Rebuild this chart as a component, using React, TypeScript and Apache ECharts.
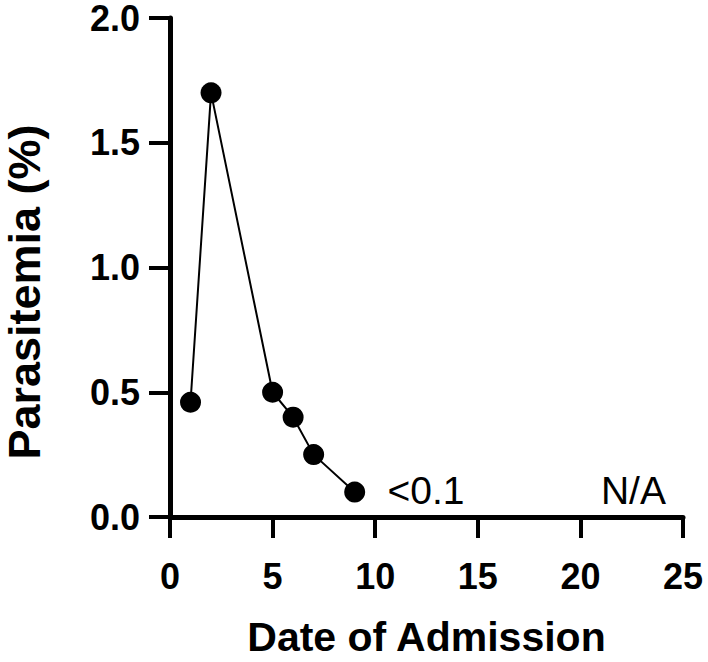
import React, { useEffect, useRef } from "react";
import * as echarts from "echarts";

const days = [1, 2, 5, 6, 7, 9];
const parasitemia = [0.46, 1.7, 0.5, 0.4, 0.25, 0.1];
const noteTexts = ["<0.1", "N/A"];
const noteX = [10.6, 21.0];
const noteY = [0.107, 0.107];
const xTitle = "Date of Admission";
const yTitle = "Parasitemia (%)";

const FONT = "'Liberation Sans', Arial, Helvetica, sans-serif";

export default function App() {
  const ref = useRef<HTMLDivElement>(null);
  useEffect(() => {
    document.body.style.margin = "0";
    if (!ref.current) return;
    const chart = echarts.init(ref.current, null, { renderer: "svg" });
    chart.setOption({
      animation: false,
      backgroundColor: "#ffffff",
      grid: { left: 170, right: 25, top: 16, bottom: 131, containLabel: false },
      xAxis: {
        type: "value",
        min: 0,
        max: 25,
        interval: 5,
        name: xTitle,
        nameLocation: "middle",
        nameGap: 99,
        nameTextStyle: { fontFamily: FONT, fontWeight: "bold", fontSize: 41, color: "#000" },
        axisLine: { show: true, lineStyle: { color: "#000", width: 5 } },
        axisTick: { show: true, length: 21, lineStyle: { color: "#000", width: 4 } },
        axisLabel: { margin: 41, fontFamily: FONT, fontWeight: "bold", fontSize: 36, color: "#000" },
        splitLine: { show: false },
      },
      yAxis: {
        type: "value",
        min: 0,
        max: 2,
        interval: 0.5,
        axisLine: { show: true, lineStyle: { color: "#000", width: 5 } },
        axisTick: { show: true, length: 21, lineStyle: { color: "#000", width: 4 } },
        axisLabel: {
          margin: 30,
          fontFamily: FONT,
          fontWeight: "bold",
          fontSize: 36,
          color: "#000",
          formatter: (v: number) => v.toFixed(1),
        },
        splitLine: { show: false },
      },
      graphic: [
        {
          type: "text",
          x: 24,
          y: 292,
          rotation: Math.PI / 2,
          style: {
            text: yTitle,
            fontFamily: FONT,
            fontWeight: "bold",
            fontSize: 45,
            fill: "#000",
            align: "center",
            verticalAlign: "middle",
          },
        },
      ],
      series: [
        {
          type: "line",
          data: days.map((d, i) => [d, parasitemia[i]]),
          symbol: "circle",
          symbolSize: 21,
          itemStyle: { color: "#000" },
          lineStyle: { color: "#000", width: 2 },
          z: 3,
        },
        {
          type: "scatter",
          data: noteTexts.map((t, i) => ({ value: [noteX[i], noteY[i]], name: t })),
          symbolSize: 0,
          itemStyle: { opacity: 1, color: "#000" },
          label: {
            show: true,
            position: [0, 0],
            align: "left",
            verticalAlign: "middle",
            formatter: (p: any) => p.name,
            fontFamily: FONT,
            fontSize: 39,
            color: "#000",
            opacity: 1,
          },
          silent: true,
        },
      ],
    });
    return () => chart.dispose();
  }, []);
  return <div ref={ref} style={{ width: 708, height: 662 }} />;
}
